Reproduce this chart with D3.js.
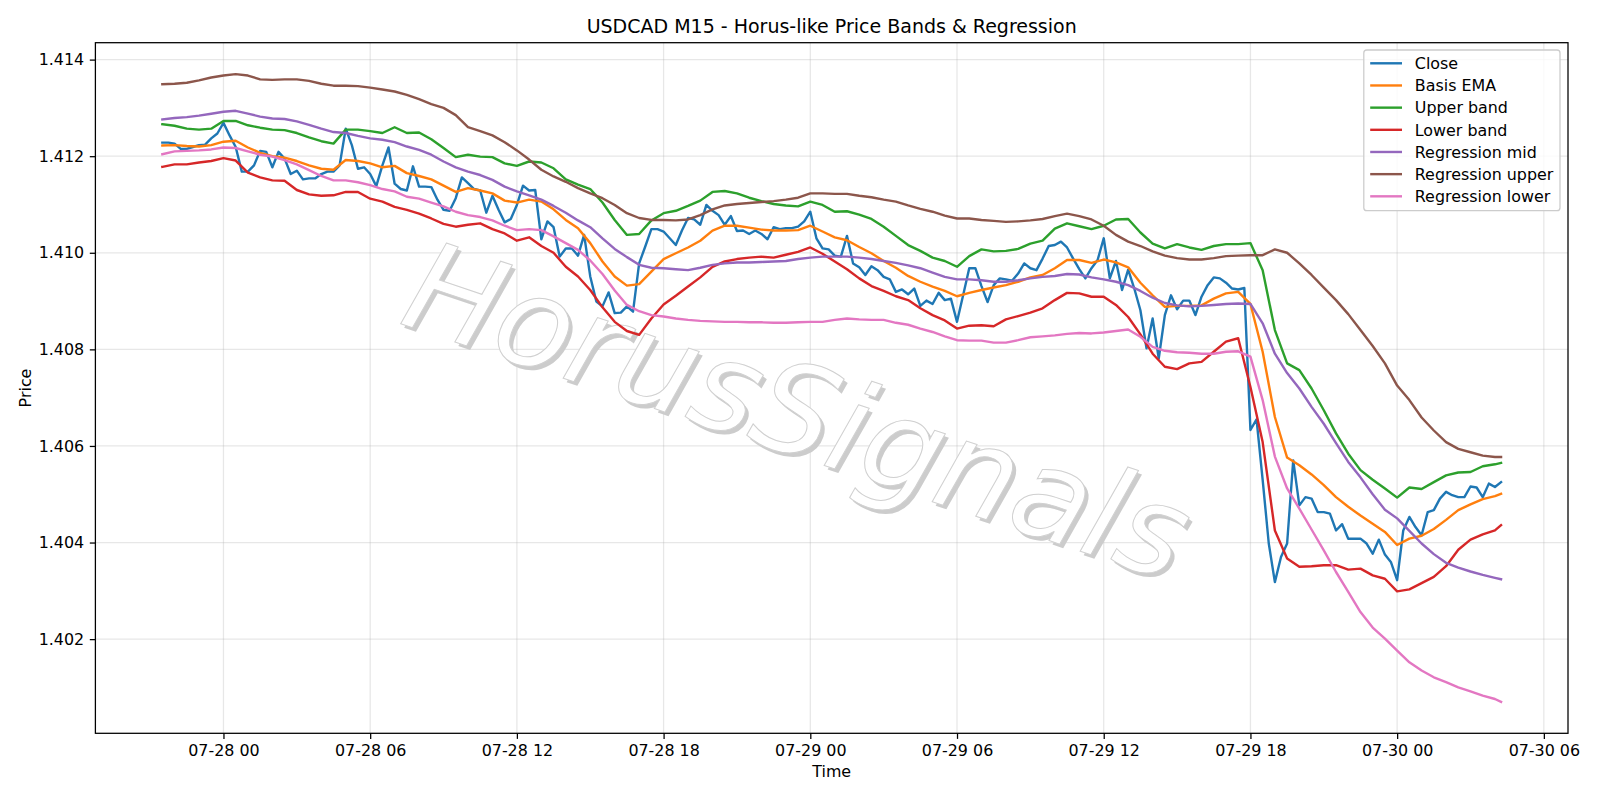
<!DOCTYPE html>
<html>
<head>
<meta charset="utf-8">
<script src="https://cdn.jsdelivr.net/npm/d3@7"></script>
<style>
  body { margin: 0; background: #fff; }
  svg text { font-family: "DejaVu Sans", sans-serif; }
</style>
</head>
<body>
<div id="main"></div>
<script>
// USDCAD M15 closes, one every 15 minutes from 07-27 21:30 UTC
const closeValues = [
  1.41228, 1.41228, 1.41226, 1.41215, 1.41215, 1.41219, 1.41223, 1.41224, 1.41237, 1.41247,
  1.41269, 1.41243, 1.41219, 1.41168, 1.41168, 1.41181, 1.41211, 1.41209, 1.41177, 1.41209,
  1.41195, 1.41163, 1.41170, 1.41152, 1.41154, 1.41154, 1.41163, 1.41168, 1.41168, 1.41181,
  1.41257, 1.41223, 1.41174, 1.41177, 1.41163, 1.41138, 1.41181, 1.41218, 1.41143,
  1.41132, 1.41129, 1.41179, 1.41137, 1.41137, 1.41136, 1.41110, 1.41089, 1.41087, 1.41113,
  1.41156, 1.41144, 1.41132, 1.41129, 1.41083, 1.41118, 1.41089, 1.41063, 1.41070, 1.41099,
  1.41139, 1.41129, 1.41130, 1.41028, 1.41065, 1.41053, 1.40992, 1.41009, 1.41009, 1.40994,
  1.41037, 1.40951, 1.40899, 1.40889, 1.40918, 1.40875,
  1.40876, 1.40889, 1.40878, 1.40978, 1.41013, 1.41049, 1.41049, 1.41044, 1.41030, 1.41016,
  1.41046, 1.41072, 1.41069, 1.41058, 1.41099, 1.41087, 1.41078, 1.41058, 1.41076, 1.41045,
  1.41046, 1.41039, 1.41046, 1.41039, 1.41028, 1.41053, 1.41049, 1.41051, 1.41051, 1.41054,
  1.41065, 1.41085, 1.41030, 1.41009, 1.41007, 1.40994, 1.40992, 1.41035,
  1.40978, 1.40970, 1.40954, 1.40972, 1.40964, 1.40950, 1.40945, 1.40919, 1.40924, 1.40914,
  1.40926, 1.40890, 1.40901, 1.40894, 1.40917, 1.40902, 1.40905, 1.40857, 1.40912, 1.40968,
  1.40968, 1.40931, 1.40898, 1.40933, 1.40947, 1.40945, 1.40942, 1.40957, 1.40978, 1.40968,
  1.40964, 1.40988, 1.41014, 1.41016, 1.41023, 1.41011, 1.40988, 1.40966,
  1.40947, 1.40968, 1.40985, 1.41030, 1.40947, 1.40983, 1.40923, 1.40965, 1.40926, 1.40881,
  1.40802, 1.40864, 1.40781, 1.40871, 1.40912, 1.40883, 1.40901, 1.40901, 1.40871, 1.40909,
  1.40933, 1.40949, 1.40947, 1.40938, 1.40926, 1.40924, 1.40927,
  1.40633, 1.40655, 1.40530, 1.40398, 1.40318, 1.40370, 1.40398, 1.40570, 1.40477, 1.40494,
  1.40491, 1.40463, 1.40463, 1.40460, 1.40425, 1.40438, 1.40408, 1.40408, 1.40408, 1.40398,
  1.40377, 1.40406, 1.40375, 1.40359, 1.40322,
  1.40425, 1.40453, 1.40432, 1.40415, 1.40463, 1.40467, 1.40491, 1.40505, 1.40498, 1.40494,
  1.40494, 1.40516, 1.40514, 1.40494, 1.40522, 1.40515, 1.40525
];

// band / regression values, one every 30 minutes (last one 15 minutes after the previous)
const emaValues = [
  1.41222, 1.41223, 1.41221, 1.41220, 1.41223, 1.41230, 1.41232, 1.41218, 1.41207, 1.41200,
  1.41197, 1.41190, 1.41181, 1.41174, 1.41172, 1.41192, 1.41190, 1.41185, 1.41177, 1.41180,
  1.41165, 1.41159, 1.41152, 1.41139, 1.41126, 1.41134, 1.41129, 1.41123, 1.41108, 1.41104,
  1.41110, 1.41106, 1.41090, 1.41068, 1.41051, 1.41020, 1.40982, 1.40951, 1.40932, 1.40935,
  1.40961, 1.40987, 1.40999, 1.41011, 1.41025, 1.41046, 1.41056, 1.41056, 1.41052, 1.41048,
  1.41046, 1.41046, 1.41047, 1.41056, 1.41044, 1.41032, 1.41026, 1.41012, 1.40999, 1.40983,
  1.40969, 1.40952, 1.40940, 1.40930, 1.40921, 1.40910, 1.40917, 1.40923, 1.40928, 1.40933,
  1.40940, 1.40949, 1.40954, 1.40968, 1.40985, 1.40985, 1.40979, 1.40986, 1.40980, 1.40970,
  1.40938, 1.40912, 1.40888, 1.40890, 1.40890, 1.40891, 1.40905, 1.40916, 1.40919, 1.40894,
  1.40795, 1.40660, 1.40576, 1.40560, 1.40541, 1.40519, 1.40494, 1.40474, 1.40456, 1.40439,
  1.40422, 1.40395, 1.40408, 1.40414, 1.40428, 1.40447, 1.40467, 1.40479, 1.40490, 1.40496,
  1.40501
];

const upperValues = [
  1.41266, 1.41263, 1.41257, 1.41255, 1.41257, 1.41273, 1.41273, 1.41264, 1.41259, 1.41255,
  1.41254, 1.41248, 1.41239, 1.41231, 1.41226, 1.41255, 1.41255, 1.41252, 1.41248, 1.41260,
  1.41248, 1.41249, 1.41235, 1.41217, 1.41198, 1.41203, 1.41199, 1.41198, 1.41185, 1.41180,
  1.41189, 1.41187, 1.41175, 1.41152, 1.41141, 1.41132, 1.41104, 1.41068, 1.41037, 1.41039,
  1.41067, 1.41082, 1.41087, 1.41097, 1.41108, 1.41126, 1.41128, 1.41123, 1.41114, 1.41107,
  1.41101, 1.41098, 1.41096, 1.41106, 1.41099, 1.41085, 1.41086, 1.41079, 1.41070, 1.41054,
  1.41035, 1.41016, 1.41004, 1.40990, 1.40983, 1.40971, 1.40993, 1.41007, 1.41003, 1.41004,
  1.41008, 1.41019, 1.41025, 1.41050, 1.41061, 1.41055, 1.41049, 1.41056, 1.41069, 1.41070,
  1.41042, 1.41019, 1.41009, 1.41018, 1.41011, 1.41006, 1.41014, 1.41018, 1.41018, 1.41020,
  1.40964, 1.40840, 1.40771, 1.40757, 1.40719, 1.40674, 1.40626, 1.40584, 1.40550, 1.40530,
  1.40512, 1.40493, 1.40514, 1.40511, 1.40525, 1.40539, 1.40545, 1.40546, 1.40558, 1.40562,
  1.40565
];

const lowerValues = [
  1.41178, 1.41183, 1.41183, 1.41187, 1.41190, 1.41196, 1.41191, 1.41166, 1.41156, 1.41150,
  1.41149, 1.41130, 1.41121, 1.41118, 1.41119, 1.41126, 1.41126, 1.41112, 1.41106, 1.41095,
  1.41089, 1.41081, 1.41071, 1.41060, 1.41054, 1.41058, 1.41061, 1.41049, 1.41040, 1.41025,
  1.41032, 1.41014, 1.41000, 1.40971, 1.40951, 1.40923, 1.40887, 1.40857, 1.40838, 1.40830,
  1.40864, 1.40893, 1.40911, 1.40930, 1.40949, 1.40971, 1.40982, 1.40987, 1.40990, 1.40992,
  1.40990, 1.40996, 1.41002, 1.41011, 1.40998, 1.40982, 1.40966, 1.40947, 1.40931, 1.40921,
  1.40910, 1.40902, 1.40885, 1.40871, 1.40860, 1.40843, 1.40849, 1.40850, 1.40848, 1.40862,
  1.40869, 1.40876, 1.40885, 1.40902, 1.40917, 1.40916, 1.40909, 1.40909, 1.40892, 1.40867,
  1.40831, 1.40791, 1.40764, 1.40759, 1.40771, 1.40774, 1.40795, 1.40816, 1.40823, 1.40722,
  1.40608, 1.40425, 1.40367, 1.40350, 1.40351, 1.40353, 1.40353, 1.40344, 1.40346, 1.40332,
  1.40325, 1.40299, 1.40303, 1.40316, 1.40329, 1.40351, 1.40385, 1.40406, 1.40417, 1.40425,
  1.40436
];

const regMidValues = [
  1.41276, 1.41279, 1.41281, 1.41284, 1.41288, 1.41292, 1.41294, 1.41288, 1.41282, 1.41278,
  1.41277, 1.41272, 1.41265, 1.41257, 1.41250, 1.41248, 1.41242, 1.41237, 1.41234, 1.41229,
  1.41220, 1.41213, 1.41203, 1.41189, 1.41177, 1.41168, 1.41161, 1.41151, 1.41137, 1.41127,
  1.41119, 1.41110, 1.41097, 1.41083, 1.41067, 1.41053, 1.41030, 1.41008, 1.40991, 1.40975,
  1.40969, 1.40968, 1.40966, 1.40964, 1.40969, 1.40975, 1.40978, 1.40980, 1.40980, 1.40981,
  1.40982, 1.40983, 1.40987, 1.40990, 1.40992, 1.40992, 1.40992, 1.40990, 1.40987, 1.40983,
  1.40979, 1.40974, 1.40968, 1.40959, 1.40950, 1.40945, 1.40945, 1.40943, 1.40940, 1.40940,
  1.40943, 1.40947, 1.40950, 1.40952, 1.40956, 1.40955, 1.40949, 1.40945, 1.40940, 1.40933,
  1.40921, 1.40907, 1.40896, 1.40891, 1.40889, 1.40890, 1.40892, 1.40894, 1.40895, 1.40894,
  1.40854, 1.40791, 1.40751, 1.40719, 1.40681, 1.40646, 1.40606, 1.40567, 1.40535, 1.40500,
  1.40468, 1.40450, 1.40424, 1.40398, 1.40376, 1.40358, 1.40348, 1.40340, 1.40333, 1.40327,
  1.40324
];

const regUpperValues = [
  1.41349, 1.41350, 1.41352, 1.41357, 1.41363, 1.41367, 1.41370, 1.41367, 1.41359, 1.41358,
  1.41359, 1.41359, 1.41356, 1.41350, 1.41346, 1.41346, 1.41345, 1.41342, 1.41338, 1.41334,
  1.41327, 1.41318, 1.41308, 1.41300, 1.41285, 1.41260, 1.41252, 1.41243, 1.41229, 1.41212,
  1.41193, 1.41172, 1.41158, 1.41147, 1.41134, 1.41123, 1.41113, 1.41099, 1.41082, 1.41072,
  1.41068, 1.41068, 1.41067, 1.41069, 1.41078, 1.41090, 1.41098, 1.41101, 1.41103, 1.41105,
  1.41107, 1.41110, 1.41114, 1.41123, 1.41123, 1.41122, 1.41122, 1.41118, 1.41115, 1.41110,
  1.41106, 1.41098, 1.41091, 1.41085, 1.41077, 1.41071, 1.41071, 1.41068, 1.41066, 1.41064,
  1.41065, 1.41067, 1.41070, 1.41076, 1.41081, 1.41076, 1.41069, 1.41056, 1.41037, 1.41023,
  1.41014, 1.41003, 1.40994, 1.40989, 1.40986, 1.40986, 1.40989, 1.40993, 1.40994, 1.40995,
  1.40995, 1.41007, 1.41000, 1.40978, 1.40954, 1.40928, 1.40902, 1.40873, 1.40840, 1.40807,
  1.40771, 1.40725, 1.40695, 1.40659, 1.40632, 1.40608, 1.40594, 1.40587, 1.40580, 1.40577,
  1.40577
];

const regLowerValues = [
  1.41204, 1.41210, 1.41211, 1.41212, 1.41214, 1.41218, 1.41217, 1.41210, 1.41203, 1.41199,
  1.41192, 1.41183, 1.41171, 1.41159, 1.41150, 1.41150, 1.41146, 1.41140, 1.41132, 1.41127,
  1.41116, 1.41112, 1.41104, 1.41096, 1.41085, 1.41078, 1.41074, 1.41067, 1.41056, 1.41047,
  1.41049, 1.41047, 1.41034, 1.41020, 1.41006, 1.40984, 1.40956, 1.40922, 1.40892, 1.40879,
  1.40871, 1.40868, 1.40864, 1.40861, 1.40859, 1.40858, 1.40857, 1.40857, 1.40856, 1.40856,
  1.40855, 1.40855, 1.40856, 1.40857, 1.40857, 1.40861, 1.40864, 1.40862, 1.40861, 1.40861,
  1.40855, 1.40851, 1.40843, 1.40836, 1.40827, 1.40819, 1.40818, 1.40818, 1.40814, 1.40814,
  1.40819, 1.40825, 1.40827, 1.40829, 1.40832, 1.40834, 1.40833, 1.40835, 1.40838, 1.40841,
  1.40826, 1.40805, 1.40797, 1.40794, 1.40793, 1.40791, 1.40791, 1.40795, 1.40796, 1.40785,
  1.40695, 1.40578, 1.40512, 1.40470, 1.40427, 1.40384, 1.40339, 1.40298, 1.40256, 1.40224,
  1.40201, 1.40176, 1.40152, 1.40135, 1.40121, 1.40111, 1.40100, 1.40092, 1.40083, 1.40076,
  1.40070
];

const seriesNames = ["Close", "Basis EMA", "Upper band", "Lower band", "Regression mid", "Regression upper", "Regression lower"];
const colors = ["#1f77b4", "#ff7f0e", "#2ca02c", "#d62728", "#9467bd", "#8c564b", "#e377c2"];
const yTicks = [1.402, 1.404, 1.406, 1.408, 1.410, 1.412, 1.414];

const startTime = Date.UTC(2025, 6, 27, 21, 30);
const step = 15 * 60 * 1000;
const lastIdx = closeValues.length - 1;
const closeIdx = d3.range(closeValues.length);
const bandIdx = d3.range(0, lastIdx, 2).concat([lastIdx]);

const series = [closeValues, emaValues, upperValues, lowerValues, regMidValues, regUpperValues, regLowerValues]
  .map((values, k) => {
    const idx = k === 0 ? closeIdx : bandIdx;
    return {
      name: seriesNames[k],
      color: colors[k],
      points: values.map((v, i) => ({ t: new Date(startTime + idx[i] * step), v: v }))
    };
  });

const width = 1600;
const height = 800;
const plotLeft = 95.4, plotRight = 1568, plotTop = 42.7, plotBottom = 733.3;
const fs = 15.9;
const lw = 1.27;

const allPoints = series.flatMap(s => s.points);
const tExt = d3.extent(allPoints, d => +d.t);
const vExt = d3.extent(allPoints, d => d.v);
const tPad = (tExt[1] - tExt[0]) * 0.05;
const vPad = (vExt[1] - vExt[0]) * 0.05;

const xScale = d3.scaleUtc()
  .domain([new Date(tExt[0] - tPad), new Date(tExt[1] + tPad)])
  .range([plotLeft, plotRight]);

const yScale = d3.scaleLinear()
  .domain([vExt[0] - vPad, vExt[1] + vPad])
  .range([plotBottom, plotTop]);

const xTicks = xScale.ticks(d3.utcHour.every(6));

const svg = d3.select("#main")
  .append("svg")
  .attr("width", width)
  .attr("height", height);

svg.append("rect")
  .attr("width", width)
  .attr("height", height)
  .attr("fill", "#fff");

svg.append("clipPath")
  .attr("id", "plot-clip")
  .append("rect")
  .attr("x", plotLeft)
  .attr("y", plotTop)
  .attr("width", plotRight - plotLeft)
  .attr("height", plotBottom - plotTop);

// grid
const grid = svg.append("g").attr("stroke", "#b0b0b0").attr("stroke-opacity", 0.3).attr("stroke-width", lw);
grid.selectAll(".gx")
  .data(xTicks)
  .enter()
  .append("line")
  .attr("x1", d => xScale(d))
  .attr("x2", d => xScale(d))
  .attr("y1", plotTop)
  .attr("y2", plotBottom);
grid.selectAll(".gy")
  .data(yTicks)
  .enter()
  .append("line")
  .attr("x1", plotLeft)
  .attr("x2", plotRight)
  .attr("y1", d => yScale(d))
  .attr("y2", d => yScale(d));

// watermark
const wmX = 784, wmY = 452, wmAngle = 18.5;
const wm = svg.append("g").attr("clip-path", "url(#plot-clip)");
wm.append("text")
  .attr("transform", "translate(" + (wmX + 3.5) + "," + (wmY + 4) + ") rotate(" + wmAngle + ")")
  .attr("text-anchor", "middle")
  .style("font-size", "125px")
  .style("font-style", "italic")
  .attr("fill", "#cccccc")
  .text("HorusSignals");
wm.append("text")
  .attr("transform", "translate(" + wmX + "," + wmY + ") rotate(" + wmAngle + ")")
  .attr("text-anchor", "middle")
  .style("font-size", "125px")
  .style("font-style", "italic")
  .attr("fill", "#ffffff")
  .attr("stroke", "#d0d0d0")
  .attr("stroke-width", 1)
  .text("HorusSignals");

// lines
const line = d3.line()
  .x(d => xScale(d.t))
  .y(d => yScale(d.v));

svg.append("g")
  .attr("clip-path", "url(#plot-clip)")
  .selectAll("path")
  .data(series)
  .enter()
  .append("path")
  .attr("d", d => line(d.points))
  .attr("fill", "none")
  .attr("stroke", d => d.color)
  .attr("stroke-width", 2.4)
  .attr("stroke-linejoin", "round")
  .attr("stroke-linecap", "square");

// axes
const xAxis = d3.axisBottom(xScale)
  .tickValues(xTicks)
  .tickFormat(d3.utcFormat("%m-%d %H"))
  .tickSize(5.6)
  .tickPadding(5.6);

const yAxis = d3.axisLeft(yScale)
  .tickValues(yTicks)
  .tickFormat(d3.format(".3f"))
  .tickSize(5.6)
  .tickPadding(5.6);

const gx = svg.append("g")
  .attr("transform", "translate(0," + plotBottom + ")")
  .call(xAxis);
const gy = svg.append("g")
  .attr("transform", "translate(" + plotLeft + ",0)")
  .call(yAxis);

[gx, gy].forEach(g => {
  g.select(".domain").remove();
  g.selectAll(".tick line").attr("stroke", "#000").attr("stroke-width", lw);
  g.selectAll(".tick text")
    .attr("fill", "#000")
    .style("font-size", fs + "px")
    .style("font-family", "DejaVu Sans");
});

svg.append("rect")
  .attr("x", plotLeft)
  .attr("y", plotTop)
  .attr("width", plotRight - plotLeft)
  .attr("height", plotBottom - plotTop)
  .attr("fill", "none")
  .attr("stroke", "#000")
  .attr("stroke-width", lw);

// labels
svg.append("text")
  .attr("x", (plotLeft + plotRight) / 2)
  .attr("y", 33)
  .attr("text-anchor", "middle")
  .style("font-size", "19px")
  .text("USDCAD M15 - Horus-like Price Bands & Regression");

svg.append("text")
  .attr("x", (plotLeft + plotRight) / 2)
  .attr("y", 777)
  .attr("text-anchor", "middle")
  .style("font-size", fs + "px")
  .text("Time");

svg.append("text")
  .attr("transform", "translate(31," + (plotTop + plotBottom) / 2 + ") rotate(-90)")
  .attr("text-anchor", "middle")
  .style("font-size", fs + "px")
  .text("Price");

// legend
const legend = svg.append("g");
legend.append("rect")
  .attr("x", 1363.8)
  .attr("y", 50)
  .attr("width", 1560 - 1363.8)
  .attr("height", 160.7)
  .attr("rx", 3)
  .attr("fill", "#fff")
  .attr("fill-opacity", 0.8)
  .attr("stroke", "#cccccc")
  .attr("stroke-width", lw);

const rows = legend.selectAll(".row")
  .data(series)
  .enter()
  .append("g")
  .attr("transform", (d, i) => "translate(0," + (63.3 + i * 22.17) + ")");

rows.append("line")
  .attr("x1", 1370.2)
  .attr("x2", 1402)
  .attr("stroke", d => d.color)
  .attr("stroke-width", 2.4);

rows.append("text")
  .attr("x", 1414.8)
  .attr("dy", "0.36em")
  .style("font-size", fs + "px")
  .text(d => d.name);
</script>
</body>
</html>
